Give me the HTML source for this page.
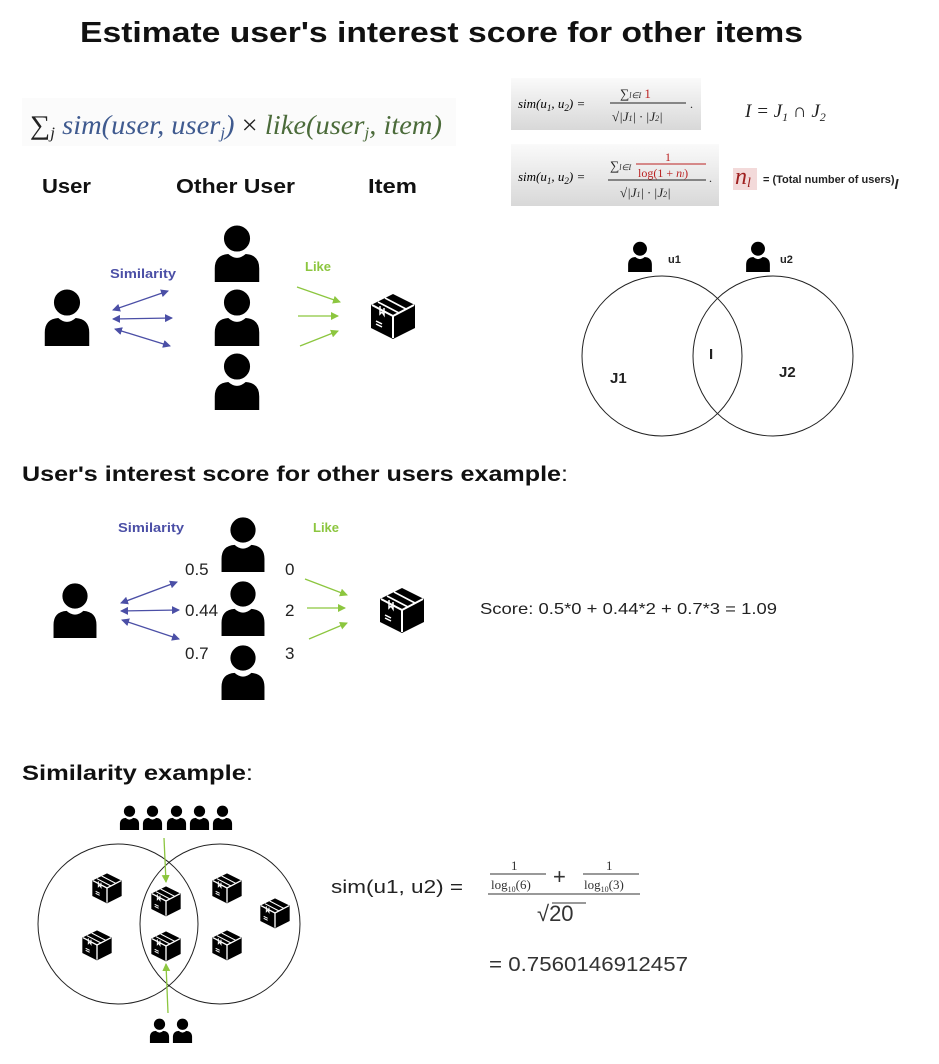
<!DOCTYPE html>
<html><head><meta charset="utf-8"><style>
html,body{margin:0;padding:0;background:#fff;}
svg{display:block;}
.b{font-family:"Liberation Sans",sans-serif;font-weight:bold;}
.r{font-family:"Liberation Sans",sans-serif;}
.m{font-family:"Liberation Serif",serif;font-style:italic;}
</style></head><body>
<svg width="939" height="1064" viewBox="0 0 939 1064" xmlns="http://www.w3.org/2000/svg">
<defs>
<symbol id="p" viewBox="0 0 50 60">
<path d="M2,60 L2,46 Q2,32 16,31 Q25,39 34,31 Q48,32 48,46 L48,60 Z" fill="#000"/>
<circle cx="25" cy="15" r="14.5" fill="#000" stroke="#fff" stroke-width="2"/>
</symbol>
<symbol id="bx" viewBox="0 0 48 48">
<polygon points="24,2 46,13 46,36 24,47 2,36 2,13" fill="#000"/>
<polyline points="3,13 24,24 45,13" fill="none" stroke="#fff" stroke-width="2"/>
<line x1="24" y1="24" x2="24" y2="46" stroke="#fff" stroke-width="2"/>
<line x1="9" y1="10" x2="30" y2="21" stroke="#fff" stroke-width="1.6"/>
<line x1="16" y1="6" x2="37" y2="17" stroke="#fff" stroke-width="1.6"/>
<polyline points="11,14 11,22 13,20 15,23 15,16" fill="none" stroke="#fff" stroke-width="1.5"/>
<line x1="7" y1="29" x2="13" y2="32" stroke="#fff" stroke-width="1.5"/>
<line x1="7" y1="32" x2="13" y2="35" stroke="#fff" stroke-width="1.5"/>
</symbol>
<marker id="ab" markerWidth="8" markerHeight="8" refX="7" refY="4" orient="auto-start-reverse" markerUnits="userSpaceOnUse"><path d="M0,0 L8,4 L0,8 Z" fill="#4b4fa6"/></marker>
<marker id="ag" markerWidth="8" markerHeight="8" refX="7" refY="4" orient="auto" markerUnits="userSpaceOnUse"><path d="M0,0 L8,4 L0,8 Z" fill="#8cc63f"/></marker>
<linearGradient id="gg" x1="0" y1="0" x2="0" y2="1"><stop offset="0" stop-color="#fafafa"/><stop offset="1" stop-color="#d8d8d8"/></linearGradient>
</defs>

<text x="80" y="42" class="b" font-size="29" fill="#111" textLength="723" lengthAdjust="spacingAndGlyphs">Estimate user's interest score for other items</text>

<rect x="22" y="98" width="434" height="48" fill="#fbfbfb"/>
<text x="30" y="134" font-size="27" class="m" textLength="412" lengthAdjust="spacingAndGlyphs"><tspan font-style="normal" fill="#222">∑</tspan><tspan font-size="16" fill="#222" dy="4">j</tspan><tspan dy="-4" fill="#3f5a8f">  sim(user, user</tspan><tspan font-size="16" dy="4" fill="#3f5a8f">j</tspan><tspan dy="-4" fill="#3f5a8f">)</tspan><tspan font-style="normal" fill="#222"> × </tspan><tspan fill="#4b6b3a">like(user</tspan><tspan font-size="16" dy="4" fill="#4b6b3a">j</tspan><tspan dy="-4" fill="#4b6b3a">, item)</tspan></text>

<!-- formulas -->
<rect x="511" y="78" width="190" height="52" fill="url(#gg)"/>
<text x="518" y="108" font-size="13" class="m">sim(u<tspan font-size="9" dy="3">1</tspan><tspan dy="-3">, u</tspan><tspan font-size="9" dy="3">2</tspan><tspan dy="-3">)  =</tspan></text>
<text x="620" y="98" font-size="13" class="m" fill="#222">∑<tspan font-size="8">l∈I</tspan> <tspan fill="#b22" font-style="normal">1</tspan></text>
<line x1="610" y1="103" x2="686" y2="103" stroke="#222" stroke-width="1"/>
<text x="612" y="121" font-size="13" class="m" fill="#222">√|J<tspan font-size="8">1</tspan>| · |J<tspan font-size="8">2</tspan>|</text>
<text x="690" y="108" font-size="12" fill="#222">.</text>
<text x="745" y="117" font-size="19" class="m" fill="#222">I = J<tspan font-size="12" dy="4">1</tspan><tspan dy="-4"> ∩ J</tspan><tspan font-size="12" dy="4">2</tspan></text>

<rect x="511" y="144" width="208" height="62" fill="url(#gg)"/>
<text x="518" y="181" font-size="13" class="m">sim(u<tspan font-size="9" dy="3">1</tspan><tspan dy="-3">, u</tspan><tspan font-size="9" dy="3">2</tspan><tspan dy="-3">)  =</tspan></text>
<text x="610" y="170" font-size="13" class="m" fill="#222">∑<tspan font-size="8">l∈I</tspan></text>
<text x="665" y="161" font-size="12" fill="#b22" font-family="Liberation Serif,serif">1</text>
<line x1="636" y1="164" x2="706" y2="164" stroke="#b22" stroke-width="1"/>
<text x="638" y="177" font-size="12" fill="#b22" font-family="Liberation Serif,serif">log(1 + <tspan font-style="italic">n<tspan font-size="7">l</tspan></tspan>)</text>
<line x1="608" y1="180" x2="706" y2="180" stroke="#222" stroke-width="1"/>
<text x="620" y="197" font-size="13" class="m" fill="#222">√|J<tspan font-size="8">1</tspan>| · |J<tspan font-size="8">2</tspan>|</text>
<text x="709" y="182" font-size="12" fill="#222">.</text>
<rect x="733" y="168" width="24" height="22" fill="#f3dada"/>
<text x="735" y="184" font-size="24" class="m" fill="#a02020">n<tspan font-size="14" dy="3">l</tspan></text>
<text x="763" y="183" font-size="11" class="b" fill="#222">= (Total number of users)<tspan font-size="14" font-style="italic" dy="6">l</tspan></text>

<text x="42" y="193" class="b" font-size="20" fill="#111" textLength="49" lengthAdjust="spacingAndGlyphs">User</text>
<text x="176" y="193" class="b" font-size="20" fill="#111" textLength="119" lengthAdjust="spacingAndGlyphs">Other User</text>
<text x="368" y="193" class="b" font-size="20" fill="#111" textLength="49" lengthAdjust="spacingAndGlyphs">Item</text>

<!-- section 1 diagram -->
<use href="#p" x="42" y="288" width="50" height="58"/>
<use href="#p" x="212" y="224" width="50" height="58"/>
<use href="#p" x="212" y="288" width="50" height="58"/>
<use href="#p" x="212" y="352" width="50" height="58"/>
<use href="#bx" x="369" y="292" width="48" height="48"/>
<text x="110" y="278" class="b" font-size="13" fill="#4b4fa6" textLength="66" lengthAdjust="spacingAndGlyphs">Similarity</text>
<text x="305" y="271" class="b" font-size="13" fill="#8cc63f">Like</text>
<g stroke="#4b4fa6" stroke-width="1.3">
<line x1="113" y1="310" x2="168" y2="291" marker-start="url(#ab)" marker-end="url(#ab)"/>
<line x1="113" y1="319" x2="172" y2="318" marker-start="url(#ab)" marker-end="url(#ab)"/>
<line x1="115" y1="329" x2="170" y2="346" marker-start="url(#ab)" marker-end="url(#ab)"/>
</g>
<g stroke="#8cc63f" stroke-width="1.3">
<line x1="297" y1="287" x2="340" y2="302" marker-end="url(#ag)"/>
<line x1="298" y1="316" x2="338" y2="316" marker-end="url(#ag)"/>
<line x1="300" y1="346" x2="338" y2="331" marker-end="url(#ag)"/>
</g>

<!-- venn top -->
<use href="#p" x="627" y="241" width="26" height="31"/>
<use href="#p" x="745" y="241" width="26" height="31"/>
<text x="668" y="263" class="b" font-size="11" fill="#222">u1</text>
<text x="780" y="263" class="b" font-size="11" fill="#222">u2</text>
<circle cx="662" cy="356" r="80" fill="none" stroke="#222" stroke-width="1"/>
<circle cx="773" cy="356" r="80" fill="none" stroke="#222" stroke-width="1"/>
<text x="610" y="383" class="b" font-size="15" fill="#222">J1</text>
<text x="709" y="359" class="b" font-size="15" fill="#222">I</text>
<text x="779" y="377" class="b" font-size="15" fill="#222">J2</text>

<!-- section 2 -->
<text x="22" y="481" class="b" font-size="21" fill="#111" textLength="546" lengthAdjust="spacingAndGlyphs">User's interest score for other users example<tspan font-weight="normal">:</tspan></text>
<use href="#p" x="50" y="582" width="50" height="56"/>
<use href="#p" x="218" y="516" width="50" height="56"/>
<use href="#p" x="218" y="580" width="50" height="56"/>
<use href="#p" x="218" y="644" width="50" height="56"/>
<use href="#bx" x="378" y="586" width="48" height="48"/>
<text x="118" y="532" class="b" font-size="13" fill="#4b4fa6" textLength="66" lengthAdjust="spacingAndGlyphs">Similarity</text>
<text x="313" y="532" class="b" font-size="13" fill="#8cc63f">Like</text>
<g stroke="#4b4fa6" stroke-width="1.3">
<line x1="121" y1="603" x2="177" y2="582" marker-start="url(#ab)" marker-end="url(#ab)"/>
<line x1="121" y1="611" x2="179" y2="610" marker-start="url(#ab)" marker-end="url(#ab)"/>
<line x1="122" y1="620" x2="179" y2="639" marker-start="url(#ab)" marker-end="url(#ab)"/>
</g>
<g stroke="#8cc63f" stroke-width="1.3">
<line x1="305" y1="579" x2="347" y2="595" marker-end="url(#ag)"/>
<line x1="307" y1="608" x2="345" y2="608" marker-end="url(#ag)"/>
<line x1="309" y1="639" x2="347" y2="623" marker-end="url(#ag)"/>
</g>
<g class="r" font-size="17" fill="#222">
<text x="185" y="575">0.5</text><text x="185" y="616">0.44</text><text x="185" y="659">0.7</text>
<text x="285" y="575">0</text><text x="285" y="616">2</text><text x="285" y="659">3</text>
</g>
<text x="480" y="614" class="r" font-size="16" fill="#222" textLength="297" lengthAdjust="spacingAndGlyphs">Score: 0.5*0 + 0.44*2 + 0.7*3 = 1.09</text>

<!-- section 3 -->
<text x="22" y="780" class="b" font-size="21" fill="#111" textLength="231" lengthAdjust="spacingAndGlyphs">Similarity example<tspan font-weight="normal">:</tspan></text>
<use href="#p" x="119" y="805" width="21" height="25"/>
<use href="#p" x="142" y="805" width="21" height="25"/>
<use href="#p" x="166" y="805" width="21" height="25"/>
<use href="#p" x="189" y="805" width="21" height="25"/>
<use href="#p" x="212" y="805" width="21" height="25"/>
<use href="#p" x="149" y="1018" width="21" height="25"/>
<use href="#p" x="172" y="1018" width="21" height="25"/>
<circle cx="118" cy="924" r="80" fill="none" stroke="#222" stroke-width="1"/>
<circle cx="220" cy="924" r="80" fill="none" stroke="#222" stroke-width="1"/>
<use href="#bx" x="91" y="872" width="32" height="32"/>
<use href="#bx" x="81" y="929" width="32" height="32"/>
<use href="#bx" x="150" y="885" width="32" height="32"/>
<use href="#bx" x="150" y="930" width="32" height="32"/>
<use href="#bx" x="211" y="872" width="32" height="32"/>
<use href="#bx" x="211" y="929" width="32" height="32"/>
<use href="#bx" x="259" y="897" width="32" height="32"/>
<g stroke="#8cc63f" stroke-width="1.3">
<line x1="164" y1="838" x2="166" y2="882" marker-end="url(#ag)"/>
<line x1="168" y1="1013" x2="166" y2="964" marker-end="url(#ag)"/>
</g>
<text x="331" y="893" class="r" font-size="18" fill="#222" textLength="132" lengthAdjust="spacingAndGlyphs">sim(u1, u2) =</text>
<g font-family="Liberation Serif,serif" fill="#333">
<text x="511" y="870" font-size="13">1</text>
<line x1="490" y1="874" x2="546" y2="874" stroke="#333" stroke-width="1"/>
<text x="491" y="889" font-size="13">log<tspan font-size="8" dy="3">10</tspan><tspan dy="-3">(6)</tspan></text>
<text x="553" y="884" font-size="22" font-family="Liberation Sans,sans-serif">+</text>
<text x="606" y="870" font-size="13">1</text>
<line x1="583" y1="874" x2="639" y2="874" stroke="#333" stroke-width="1"/>
<text x="584" y="889" font-size="13">log<tspan font-size="8" dy="3">10</tspan><tspan dy="-3">(3)</tspan></text>
<line x1="488" y1="894" x2="640" y2="894" stroke="#333" stroke-width="1"/>
</g>
<text x="537" y="921" class="r" font-size="22" fill="#333">√20</text>
<line x1="552" y1="903" x2="586" y2="903" stroke="#333" stroke-width="1"/>
<text x="489" y="971" class="r" font-size="20" fill="#333" textLength="199" lengthAdjust="spacingAndGlyphs">=  0.7560146912457</text>
</svg>
</body></html>
